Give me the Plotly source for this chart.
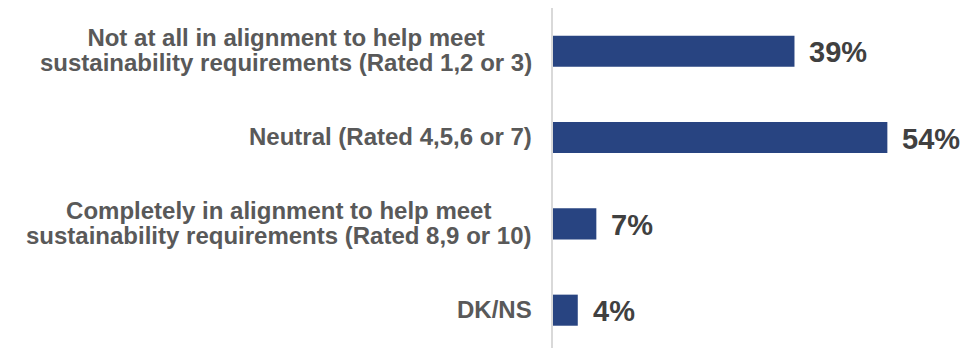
import plotly.graph_objects as go

# Survey responses: alignment of suppliers to help meet sustainability requirements
categories = [
    "Not at all in alignment to help meet<br>sustainability requirements (Rated 1,2 or 3)",
    "Neutral (Rated 4,5,6 or 7)",
    "Completely in alignment to help meet<br>sustainability requirements (Rated 8,9 or 10)",
    "DK/NS",
]
values = [39, 54, 7, 4]
value_labels = [f"{v}%" for v in values]

BAR_COLOR = "#284481"
LABEL_COLOR = "#595959"
VALUE_COLOR = "#404040"
FONT = "Liberation Sans, Arial, sans-serif"
LABEL_SIZE = 24

fig = go.Figure(
    go.Bar(
        x=values,
        y=categories,
        orientation="h",
        marker=dict(color=BAR_COLOR, line=dict(width=0)),
        width=0.36,
        hoverinfo="skip",
    )
)


def styled(text, size):
    span = f"<span style='font-size:{size}px'>"
    return "<b>" + "<br>".join(span + part + "</span>" for part in text.split("<br>")) + "</b>"


annotations = []
# Category labels, right-aligned against the axis; a smaller base size keeps the
# line spacing tight while the inner span sets the visible text size.
for cat in categories:
    annotations.append(
        dict(
            x=0, xref="paper", y=cat, yref="y",
            xanchor="right", yanchor="middle",
            xshift=-19, yshift=1,
            align="center",
            showarrow=False,
            text=styled(cat, LABEL_SIZE),
            font=dict(family=FONT, size=19.2, color=LABEL_COLOR),
        )
    )

# Value labels just past the end of each bar
for cat, v, lab in zip(categories, values, value_labels):
    annotations.append(
        dict(
            x=v, xref="x", y=cat, yref="y",
            xanchor="left", yanchor="middle",
            xshift=13, yshift=-1,
            showarrow=False,
            text=f"<b>{lab}</b>",
            font=dict(family=FONT, size=29, color=VALUE_COLOR),
        )
    )

fig.update_layout(
    width=966,
    height=349,
    margin=dict(l=553, r=0, t=8, b=1),
    paper_bgcolor="white",
    plot_bgcolor="white",
    showlegend=False,
    annotations=annotations,
    xaxis=dict(
        range=[0, 66.7],
        showgrid=False,
        zeroline=False,
        showticklabels=False,
        showline=False,
        fixedrange=True,
    ),
    yaxis=dict(
        type="category",
        categoryorder="array",
        categoryarray=categories,
        range=[3.438, -0.5],
        showgrid=False,
        zeroline=False,
        showticklabels=False,
        showline=True,
        linecolor="#D9D9D9",
        linewidth=1.5,
        ticks="",
        fixedrange=True,
    ),
)

fig.write_html("out.html", config={"displayModeBar": False})
